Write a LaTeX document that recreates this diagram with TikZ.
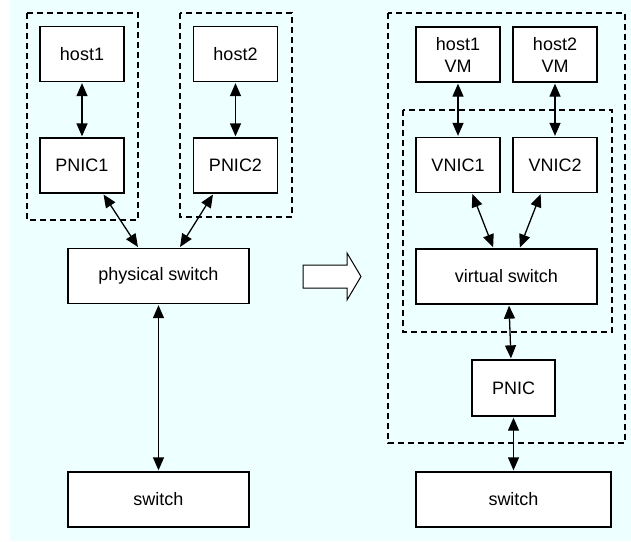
\documentclass[tikz,border=0pt]{standalone}
\usepackage{fontspec}
\setmainfont{Liberation Sans}
\usepackage{tikz}
\usetikzlibrary{arrows.meta}
\definecolor{bgcyan}{RGB}{238,255,255}

\begin{document}
\begin{tikzpicture}
  [x=1pt,y=-1pt,line width=1.3pt,
   every node/.style={draw,fill=white,inner sep=0pt,minimum width=84,minimum height=55,
     align=center,font=\fontsize{18}{22}\selectfont},
   link/.style={{Triangle[length=13pt,width=11pt]}-{Triangle[length=13pt,width=11pt]},shorten <=1pt,shorten >=1pt},
   group/.style={dashed,dash pattern=on 6pt off 4pt}]
  \useasboundingbox (0,0) rectangle (631,541);
  \fill[bgcyan] (10,0) rectangle (631,541);

  \draw[group] (27,13) rectangle (138,220);
  \draw[group] (180,13) rectangle (292,217);
  \draw[group] (388,13) rectangle (625,443);
  \draw[group] (403,110) rectangle (612,332);

  \node (host1) at (82,54)    {host1};
  \node (pnic1) at (82,165.5) {PNIC1};
  \node (host2) at (235.5,54)    {host2};
  \node (pnic2) at (235.5,165.5) {PNIC2};
  \node[minimum width=181] (psw) at (158.5,276)   {physical switch};
  \node[minimum width=181] (swa) at (158.5,499.5) {switch};

  \node (vm1)   at (458,54.5) {host1\\VM};
  \node (vm2)   at (555,54.5) {host2\\VM};
  \node (vnic1) at (458,165)  {VNIC1};
  \node (vnic2) at (555,165)  {VNIC2};
  \node[minimum width=181] (vsw) at (506.5,276.5) {virtual switch};
  \node[minimum width=83,minimum height=56] (pnic) at (513.5,388) {PNIC};
  \node[minimum width=195] (swb) at (513.5,499.5) {switch};

  \foreach \from/\to in {host1/pnic1,host2/pnic2,psw/swa,vm1/vnic1,vm2/vnic2,pnic/swb}
    \draw[link] (\from.south) -- (\to.north);

  \draw[link] ([xshift=21]pnic1.south) -- ([xshift=-20]psw.north);
  \draw[link] ([xshift=-22]pnic2.south) -- ([xshift=21]psw.north);
  \draw[link] ([xshift=14]vnic1.south) -- ([xshift=-13]vsw.north);
  \draw[link] ([xshift=-14]vnic2.south) -- ([xshift=13]vsw.north);
  \draw[link] ([xshift=2.5]vsw.south) -- ([xshift=-2.5]pnic.north);

  \draw[line width=1pt,fill=white] (303,265) -- (347,265) -- (347,253) -- (361,276.5)
    -- (347,300) -- (347,288) -- (303,288) -- cycle;
\end{tikzpicture}
\end{document}
